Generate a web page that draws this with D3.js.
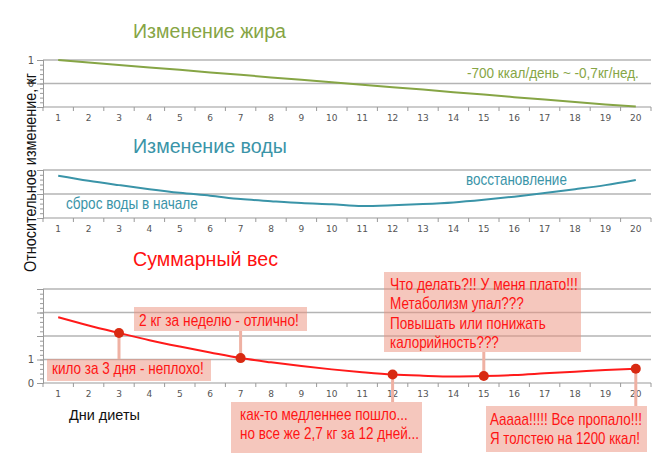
<!DOCTYPE html>
<html><head><meta charset="utf-8">
<script src="https://cdn.jsdelivr.net/npm/d3@7"></script>
<style>
body{margin:0;background:#fff;}
svg{display:block;}
</style></head>
<body>
<svg id="c" width="666" height="456"></svg>
<script>
// ---- data ----
const days = [1,2,3,4,5,6,7,8,9,10,11,12,13,14,15,16,17,18,19,20];
const fat = [1.0,0.89,0.79,0.68,0.58,0.47,0.37,0.26,0.16,0.05,-0.05,-0.16,-0.26,-0.37,-0.47,-0.58,-0.68,-0.79,-0.89,-0.98];
const water = [0.76,0.55,0.37,0.2,0.05,-0.07,-0.21,-0.3,-0.38,-0.43,-0.5,-0.47,-0.42,-0.35,-0.24,-0.11,0.04,0.2,0.37,0.58];
const total = [2.8,2.45,2.13,1.82,1.55,1.3,1.06,0.88,0.72,0.58,0.46,0.36,0.31,0.28,0.3,0.34,0.41,0.48,0.55,0.61];
const titles = ["Изменение жира","Изменение воды","Суммарный вес"];
const fatNote = "-700 ккал/день ~ -0,7кг/нед.";
const waterNotes = ["сброс воды в начале","восстановление"];
const yLabel = "Относительное изменение, кг";
const xLabel = "Дни диеты";
const notes = [
  {day:3, lines:["кило за 3 дня - неплохо!"]},
  {day:7, lines:["2 кг за неделю - отлично!"]},
  {day:12, lines:["как-то медленнее пошло...","но все же 2,7 кг за 12 дней..."]},
  {day:15, lines:["Что делать?!! У меня плато!!!","Метаболизм упал???","Повышать или понижать","калорийность???"]},
  {day:20, lines:["Ааааа!!!!! Все пропало!!!","Я толстею на 1200 ккал!"]}
];

// ---- layout ----
const svg = d3.select("#c");
const NARROW = "'Liberation Sans Narrow','Arial Narrow','Liberation Sans',Arial,sans-serif";
const SANS = "'Liberation Sans',Arial,sans-serif";
const x = d3.scaleBand().domain(days).range([43,651]);
const xc = d => x(d) + x.bandwidth()/2;
const GRID = "#b4b4b4", AXIS="#9a9a9a", TICKTXT="#555";

// text fitted to a width by horizontal scaling
function fitText(parent, str, tx, ty, width, size, family, color, rot){
  const t = parent.append("text").text(str).attr("fill",color)
    .style("font-family",family).style("font-size",size+"px");
  const nat = t.node().getComputedTextLength();
  const s = width / nat;
  t.attr("transform", rot ? `translate(${tx},${ty}) rotate(-90) scale(${s},1)` : `translate(${tx},${ty}) scale(${s},1)`);
  return t;
}

function panel(cfg){
  const g = svg.append("g");
  const y = d3.scaleLinear().domain(cfg.domain).range(cfg.range);
  g.selectAll(".grid").data(cfg.grid).join("line")
    .attr("x1",43).attr("x2",651).attr("y1",d=>y(d)).attr("y2",d=>y(d))
    .attr("stroke",GRID).attr("stroke-width",1.5);
  g.append("line").attr("x1",43).attr("x2",651).attr("y1",y(cfg.domain[0])).attr("y2",y(cfg.domain[0]))
    .attr("stroke",AXIS).attr("stroke-width",1.2);
  g.selectAll(".bt").data(days.concat([21])).join("line")
    .attr("x1",d=> d===21 ? 651 : x(d)).attr("x2",d=> d===21 ? 651 : x(d))
    .attr("y1",y(cfg.domain[0])).attr("y2",y(cfg.domain[0])+4)
    .attr("stroke",AXIS).attr("stroke-width",1);
  const xa = g.append("g").attr("transform",`translate(0,${y(cfg.domain[0])})`)
    .call(d3.axisBottom(x).tickSize(0).tickPadding(8));
  xa.select(".domain").remove();
  xa.selectAll("text").attr("fill",TICKTXT).style("font-size","9px").style("font-family","'DejaVu Sans',sans-serif");
  const ya2 = g.append("g").attr("transform","translate(43,0)")
    .call(d3.axisLeft(y).tickValues(d3.range(cfg.domain[0],cfg.domain[1]+0.001,0.2)).tickSize(3).tickFormat(""));
  ya2.select(".domain").attr("stroke",AXIS);
  ya2.selectAll("line").attr("stroke",AXIS);
  const ya = g.append("g").attr("transform","translate(43,0)")
    .call(d3.axisLeft(y).tickValues(d3.range(cfg.domain[0],cfg.domain[1]+0.001,1)).tickSize(6).tickPadding(3)
      .tickFormat(d=> cfg.labels.includes(d) ? d3.format("d")(d) : ""));
  ya.select(".domain").attr("stroke",AXIS);
  ya.selectAll("line").attr("stroke",AXIS);
  ya.selectAll("text").attr("fill",TICKTXT).style("font-size","10px").style("font-family","'DejaVu Sans',sans-serif");
  fitText(svg, cfg.title, cfg.titleX, cfg.titleY, cfg.titleW, 21, SANS, cfg.color);
  return {g,y};
}

// top: fat
const p1 = panel({domain:[-1,1],range:[107,60],grid:[0,1],labels:[0,1],title:titles[0],titleX:133,titleY:38,titleW:153,color:"#86a545"});
p1.g.append("path").datum(fat)
  .attr("d",d3.line().x((d,i)=>xc(days[i])).y(d=>p1.y(d)))
  .attr("fill","none").attr("stroke","#86a545").attr("stroke-width",2);
fitText(svg, fatNote, 467, 78, 172, 15, NARROW, "#86a545");

// middle: water
const p2 = panel({domain:[-1,1],range:[218,170],grid:[0,1],labels:[],title:titles[1],titleX:133,titleY:153,titleW:154,color:"#3a94a8"});
p2.g.append("path").datum(water)
  .attr("d",d3.line().x((d,i)=>xc(days[i])).y(d=>p2.y(d)).curve(d3.curveMonotoneX))
  .attr("fill","none").attr("stroke","#3a94a8").attr("stroke-width",2);
fitText(svg, waterNotes[0], 66, 209, 132, 16, NARROW, "#3a94a8");
fitText(svg, waterNotes[1], 466, 185, 101, 16, NARROW, "#3a94a8");

// bottom: total
const p3 = panel({domain:[0,4],range:[383,289],grid:[1,2,3,4],labels:[0,1],title:titles[2],titleX:133,titleY:266,titleW:145,color:"#ff1010"});
p3.g.append("path").datum(total)
  .attr("d",d3.line().x((d,i)=>xc(days[i])).y(d=>p3.y(d)).curve(d3.curveMonotoneX))
  .attr("fill","none").attr("stroke","#ff1a1a").attr("stroke-width",2);

// annotation boxes
const boxes = [
  {x:47,y:359,w:164,h:22,tx:52,tw:[152],by:374},
  {x:134,y:307,w:173,h:24,tx:139,tw:[160],by:326},
  {x:231,y:402,w:191,h:51,tx:240,tw:[168,179],by:420},
  {x:384,y:272,w:197,h:80,tx:390,tw:[188,134,156,109],by:290},
  {x:486,y:406,w:161,h:46,tx:490,tw:[152,150],by:425}
];
const ag = svg.append("g");
notes.forEach((n,i)=>{
  const b = boxes[i];
  const px = xc(n.day), py = p3.y(total[days.indexOf(n.day)]);
  const by2 = (b.y > py) ? b.y : b.y + b.h;
  ag.append("rect").attr("x",b.x).attr("y",b.y).attr("width",b.w).attr("height",b.h)
    .attr("fill","#eb8f7c").attr("fill-opacity",0.5);
  ag.append("line").attr("x1",px).attr("x2",px).attr("y1",py).attr("y2",by2)
    .attr("stroke","#efb1a3").attr("stroke-width",3);
  const step = n.lines.length>2 ? 19.3 : 19;
  n.lines.forEach((t,j)=>{
    fitText(ag, t, b.tx, b.by + j*step, b.tw[j], 16, NARROW, "#ff1414");
  });
});
ag.selectAll(".dot").data(notes).join("circle")
  .attr("cx",d=>xc(d.day)).attr("cy",d=>p3.y(total[days.indexOf(d.day)]))
  .attr("r",5).attr("fill","#d82a12");

// axis labels
fitText(svg, yLabel, 36, 272, 199, 17, SANS, "#111", true);
fitText(svg, xLabel, 69, 420, 71, 15, SANS, "#111");
</script>
</body></html>
